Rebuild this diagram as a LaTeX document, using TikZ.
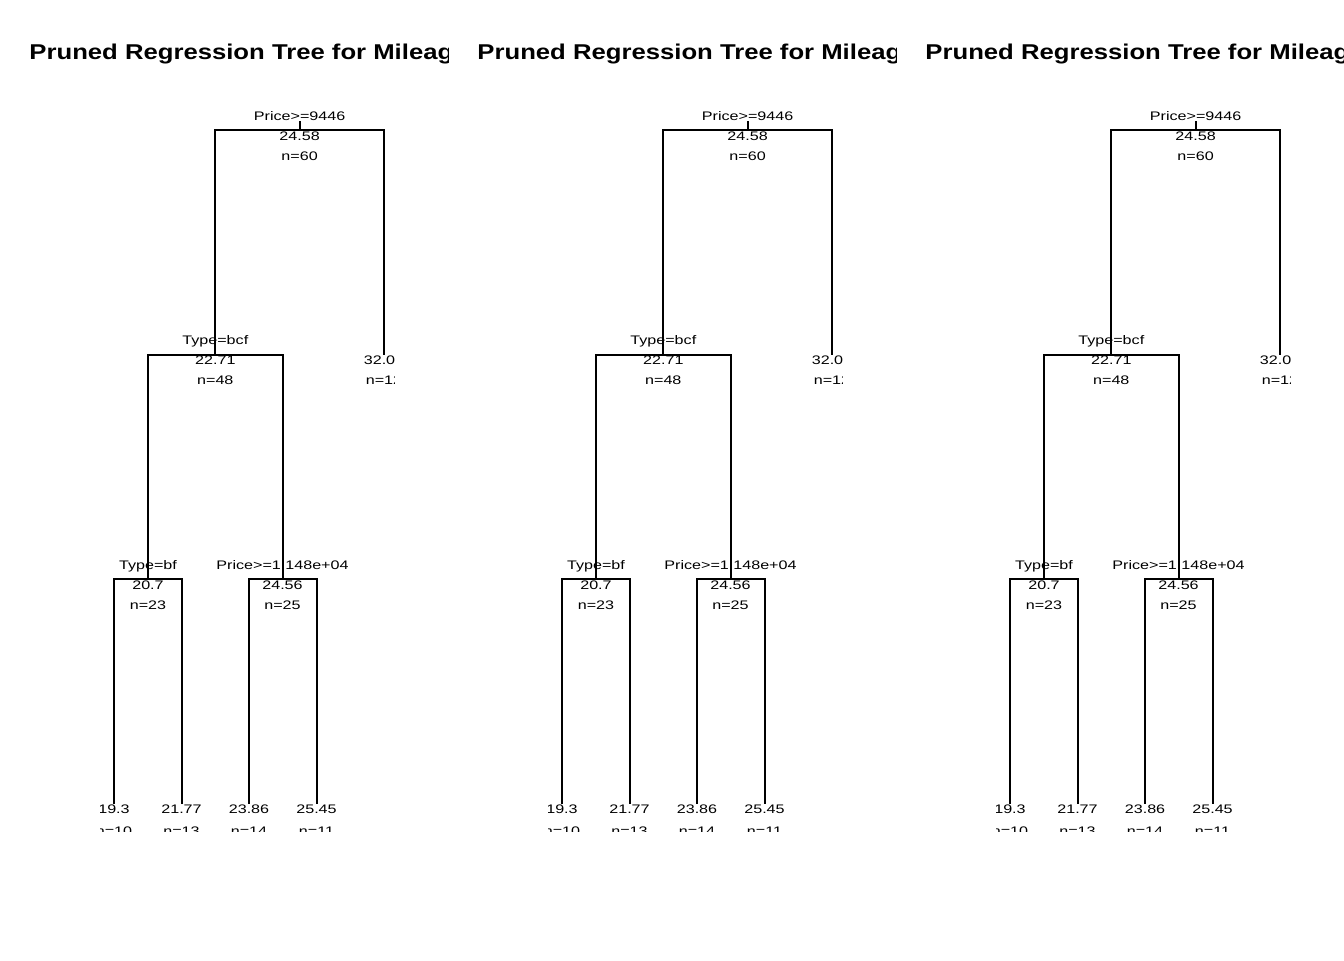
\documentclass[tikz,border=0pt]{standalone}
\usepackage{fontspec}
\setmainfont{Liberation Sans}
\newfontfamily\titlefont[FakeStretch=1.2]{Liberation Sans}
\newfontfamily\labfont[FakeStretch=1.3]{Liberation Sans}
\tikzset{
  titlestyle/.style={anchor=base,inner sep=0pt,font=\titlefont\bfseries\fontsize{10.7}{12}\selectfont},
  splitlab/.style={anchor=base,inner sep=0pt,font=\labfont\fontsize{6.2}{7}\selectfont},
  lab/.style={anchor=center,inner sep=0pt,font=\labfont\fontsize{6.2}{7}\selectfont},
  branch/.style={draw=black,line width=1pt}
}
\begin{document}
\begin{tikzpicture}[x=0.5pt,y=-0.5pt]
\useasboundingbox (0,0) rectangle (1344,960);
\foreach \p/\o in {a/0,b/448,c/896}{
  \begin{scope}[shift={(\o,0)}]
    \begin{scope}
      \clip (0,0) rectangle (448,960);
      \node[titlestyle] (title\p) at (248.5,59) {Pruned Regression Tree for Mileage};
    \end{scope}
    \begin{scope}
      \clip (100,101.5) rectangle (394,831);
      \coordinate (n1s\p) at (299.6,121);
      \coordinate (n1\p) at (299.6,130);
      \coordinate (n2\p) at (215.3,354.5);
      \coordinate (n3\p) at (384,354.5);
      \coordinate (n4\p) at (148,579);
      \coordinate (n5\p) at (282.5,579);
      \coordinate (n8\p) at (114,803.5);
      \coordinate (n9\p) at (181.5,803.5);
      \coordinate (n10\p) at (249,803.5);
      \coordinate (n11\p) at (316.5,803.5);
      \draw[branch] (n1s\p) -- (n1\p);
      \draw[branch] (n2\p) -- (n2\p |- n1\p) -- (n3\p |- n1\p) -- (n3\p);
      \draw[branch] (n4\p) -- (n4\p |- n2\p) -- (n5\p |- n2\p) -- (n5\p);
      \draw[branch] (n8\p) -- (n8\p |- n4\p) -- (n9\p |- n4\p) -- (n9\p);
      \draw[branch] (n10\p) -- (n10\p |- n5\p) -- (n11\p |- n5\p) -- (n11\p);
      % root
      \node[splitlab] (s1\p) at (299.6,120) {Price>=9446};
      \node[lab] (v1\p) at (299.6,136) {24.58};
      \node[lab] (c1\p) at (299.6,156) {n=60};
      % node 2
      \node[splitlab] (s2\p) at (215.3,344.5) {Type=bcf};
      \node[lab] (v2\p) at (215.3,360.5) {22.71};
      \node[lab] (c2\p) at (215.3,380.5) {n=48};
      % leaf 3
      \node[lab] (v3\p) at (384,360.5) {32.08};
      \node[lab] (c3\p) at (384,380.5) {n=12};
      % node 4
      \node[splitlab] (s4\p) at (148,569) {Type=bf};
      \node[lab] (v4\p) at (148,585) {20.7};
      \node[lab] (c4\p) at (148,605) {n=23};
      % node 5
      \node[splitlab] (s5\p) at (282.5,569) {Price>=1.148e+04};
      \node[lab] (v5\p) at (282.5,585) {24.56};
      \node[lab] (c5\p) at (282.5,605) {n=25};
      % leaves
      \node[lab] (v8\p) at (114,809.5) {19.3};
      \node[lab] (c8\p) at (114,831) {n=10};
      \node[lab] (v9\p) at (181.5,809.5) {21.77};
      \node[lab] (c9\p) at (181.5,831) {n=13};
      \node[lab] (v10\p) at (249,809.5) {23.86};
      \node[lab] (c10\p) at (249,831) {n=14};
      \node[lab] (v11\p) at (316.5,809.5) {25.45};
      \node[lab] (c11\p) at (316.5,831) {n=11};
    \end{scope}
  \end{scope}
}
\end{tikzpicture}
\end{document}
